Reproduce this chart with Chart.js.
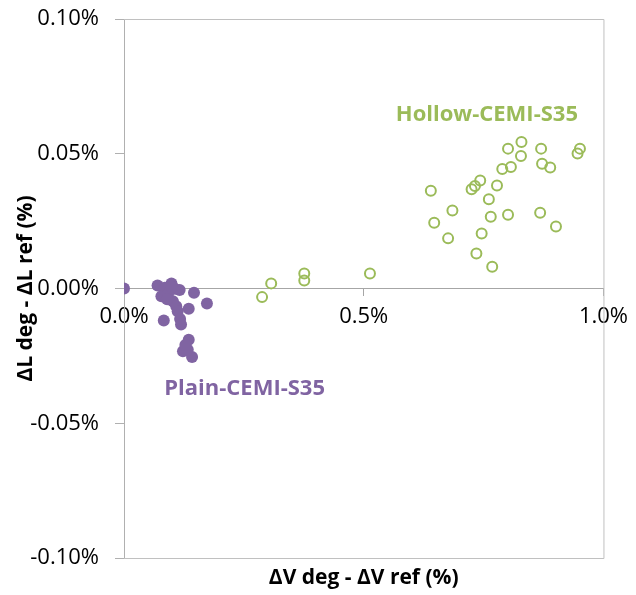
<!DOCTYPE html>
<html>
<head>
<meta charset="utf-8">
<script src="https://cdn.jsdelivr.net/npm/chart.js@4/dist/chart.umd.min.js"></script>
<style>
  html, body { margin: 0; padding: 0; background: #ffffff; }
  #wrap { width: 636px; height: 595px; position: relative; }
</style>
</head>
<body>
<div id="wrap"><canvas id="c" width="636" height="595"></canvas></div>
<script>
// Deformation differences (deg - ref), in percent
const seriesNames = ['Plain-CEMI-S35', 'Hollow-CEMI-S35'];

const plainDV = [0.000, 0.070, 0.099, 0.085, 0.106, 0.078, 0.092, 0.116, 0.146, 0.173,
                 0.102, 0.109, 0.135, 0.112, 0.083, 0.117, 0.119, 0.135, 0.123, 0.142,
                 0.133, 0.090, 0.100, 0.128];
const plainDL = [0.0000, 0.0011, 0.0019, 0.0003, -0.0001, -0.0029, -0.0019, -0.0006, -0.0016, -0.0056,
                 -0.0047, -0.0066, -0.0075, -0.0084, -0.0119, -0.0113, -0.0134, -0.0190, -0.0233, -0.0254,
                 -0.0227, -0.0040, 0.0005, -0.0210];

const hollowDV = [0.288, 0.307, 0.376, 0.376, 0.513,
                  0.829, 0.801, 0.870, 0.951, 0.946, 0.828, 0.872, 0.889, 0.807, 0.789,
                  0.743, 0.732, 0.725, 0.778, 0.640, 0.761, 0.685, 0.765, 0.801, 0.868,
                  0.647, 0.901, 0.746, 0.676, 0.735, 0.768];
const hollowDL = [-0.0032, 0.0019, 0.0056, 0.0030, 0.0056,
                  0.0544, 0.0519, 0.0519, 0.0519, 0.0501, 0.0492, 0.0463, 0.0449, 0.0451, 0.0443,
                  0.0401, 0.0380, 0.0368, 0.0382, 0.0363, 0.0331, 0.0289, 0.0266, 0.0274, 0.0281,
                  0.0244, 0.0230, 0.0204, 0.0186, 0.0130, 0.0081];

const xTickValues = [0, 0.5, 1.0];
const xTickLabels = ['0.0%', '0.5%', '1.0%'];
const yTickValues = [-0.10, -0.05, 0, 0.05, 0.10];
const yTickLabels = ['-0.10%', '-0.05%', '0.00%', '0.05%', '0.10%'];

const xTitle = 'ΔV deg - ΔV ref (%)';
const yTitle = 'ΔL deg - ΔL ref (%)';

const PURPLE = '#8064a2';
const GREEN = '#9bbb59';
const FONT = '"Open Sans", "Liberation Sans", sans-serif';

const toPoints = (xs, ys) => xs.map((x, i) => ({ x: x, y: ys[i] }));

// Series name tags placed in data coordinates
const seriesTags = [
  { text: seriesNames[0], x: 0.2516, y: -0.0372, color: PURPLE },
  { text: seriesNames[1], x: 0.757, y: 0.0643, color: GREEN }
];

const decorations = {
  id: 'decorations',
  beforeDatasetsDraw(chart) {
    const { ctx, chartArea: a } = chart;
    ctx.save();
    ctx.strokeStyle = '#c0c0c0';
    ctx.lineWidth = 1;
    ctx.beginPath();
    ctx.moveTo(a.left, a.top + 0.5);
    ctx.lineTo(a.right + 0.5, a.top + 0.5);
    ctx.lineTo(a.right + 0.5, a.bottom + 0.5);
    ctx.lineTo(a.left, a.bottom + 0.5);
    ctx.stroke();
    ctx.restore();
  },
  afterDraw(chart) {
    const { ctx, chartArea: a, scales } = chart;
    ctx.save();
    ctx.textAlign = 'center';
    ctx.textBaseline = 'middle';
    ctx.fillStyle = '#000000';
    ctx.font = 'bold 21px ' + FONT;
    ctx.fillText(xTitle, (a.left + a.right) / 2, 578);
    ctx.translate(26, (a.top + a.bottom) / 2);
    ctx.rotate(-Math.PI / 2);
    ctx.fillText(yTitle, 0, 0);
    ctx.restore();

    ctx.save();
    ctx.textAlign = 'center';
    ctx.textBaseline = 'middle';
    ctx.font = 'bold 22px ' + FONT;
    seriesTags.forEach(t => {
      ctx.fillStyle = t.color;
      ctx.fillText(t.text, scales.x.getPixelForValue(t.x), scales.y.getPixelForValue(t.y));
    });
    ctx.restore();
  }
};

new Chart(document.getElementById('c'), {
  type: 'scatter',
  data: {
    datasets: [
      {
        label: seriesNames[0],
        data: toPoints(plainDV, plainDL),
        backgroundColor: PURPLE,
        borderColor: PURPLE,
        borderWidth: 0,
        pointRadius: 6
      },
      {
        label: seriesNames[1],
        data: toPoints(hollowDV, hollowDL),
        backgroundColor: 'rgba(0,0,0,0)',
        borderColor: GREEN,
        borderWidth: 2,
        pointRadius: 5
      }
    ]
  },
  plugins: [decorations],
  options: {
    responsive: false,
    devicePixelRatio: 1,
    animation: false,
    layout: { padding: { left: 0, top: 19, right: 25, bottom: 37 } },
    plugins: {
      legend: { display: false },
      tooltip: { enabled: false }
    },
    scales: {
      x: {
        type: 'linear',
        position: { y: 0 },
        min: 0,
        max: 1.0,
        afterBuildTicks: s => { s.ticks = xTickValues.map(v => ({ value: v })); },
        ticks: {
          callback: (v, i) => xTickLabels[i],
          color: '#000000',
          font: { family: FONT, size: 22 },
          padding: 8,
          maxRotation: 0
        },
        grid: { drawOnChartArea: false, tickLength: 7, color: '#a6a6a6' },
        border: { color: '#a6a6a6', width: 1 }
      },
      y: {
        type: 'linear',
        position: 'left',
        min: -0.10,
        max: 0.10,
        afterBuildTicks: s => { s.ticks = yTickValues.map(v => ({ value: v })); },
        afterFit: s => { s.width = 124; },
        ticks: {
          callback: (v, i) => yTickLabels[i],
          color: '#000000',
          font: { family: FONT, size: 22, lineHeight: 0.2 },
          padding: 16
        },
        grid: { drawOnChartArea: false, tickLength: 9, color: '#b0b0b0' },
        border: { color: '#b0b0b0', width: 1 }
      }
    }
  }
});
</script>
</body>
</html>
